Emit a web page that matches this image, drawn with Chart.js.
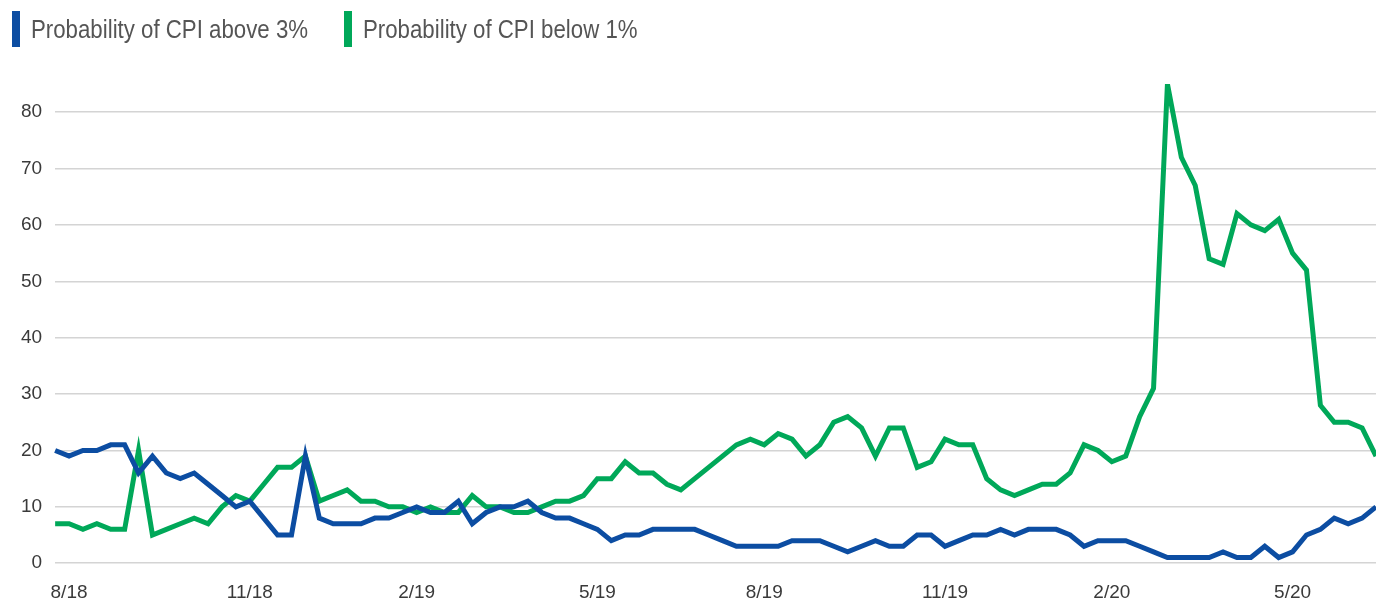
<!DOCTYPE html>
<html>
<head>
<meta charset="utf-8">
<script src="https://cdn.jsdelivr.net/npm/chart.js@4.4.1/dist/chart.umd.min.js"></script>
<style>
  html, body { margin: 0; padding: 0; background: #fff; overflow: hidden; }
  #wrap { position: absolute; left: 0; top: 0; width: 1386px; height: 614px; }
  #legend { position: absolute; left: 12px; top: 11px; display: flex; z-index: 2;
    font-family: "Liberation Sans", sans-serif; font-size: 25px; color: #555; }
  .item { display: flex; align-items: center; margin-right: 36px; height: 36px; flex: none; white-space: nowrap; }
  .bar { width: 8px; height: 36px; margin-right: 11px; flex: none; }
  .txt { display: inline-block; transform: scaleX(0.89); transform-origin: left center; }
</style>
</head>
<body>
<div id="legend"></div>
<div id="wrap"><canvas id="mychart"></canvas></div>
<script>
// weekly readings, Aug 2018 - Jun 2020
var above3 = [20, 19, 20, 20, 21, 21, 16, 19, 16, 15, 16, 14, 12, 10, 11, 8, 5, 5, 19, 8, 7, 7,
  7, 8, 8, 9, 10, 9, 9, 11, 7, 9, 10, 10, 11, 9, 8, 8, 7, 6, 4, 5, 5, 6, 6, 6,
  6, 5, 4, 3, 3, 3, 3, 4, 4, 4, 3, 2, 3, 4, 3,
  3, 5, 5, 3, 4, 5, 5, 6, 5, 6,
  6, 6, 5, 3, 4, 4, 4, 3, 2, 1, 1, 1, 1, 2, 1, 1, 3, 1, 2, 5, 6, 8, 7, 8, 10];
var below1 = [7, 7, 6, 7, 6, 6, 20, 5, 6, 7, 8, 7, 10, 12, 11, 14, 17, 17, 19, 11, 12, 13,
  11, 11, 10, 10, 9, 10, 9, 9, 12, 10, 10, 9, 9, 10, 11, 11, 12, 15, 15, 18, 16, 16, 14, 13,
  15, 17, 19, 21, 22, 21, 23, 22, 19, 21, 25, 26, 24, 19, 24,
  24, 17, 18, 22, 21, 21, 15, 13, 12,
  13, 14, 14, 16, 21, 20, 18, 19, 26, 31, 85, 72, 67, 54, 53, 62, 60, 59, 61, 55, 52, 28, 25, 25, 24, 19];

var tickLabels = ['8/18', '11/18', '2/19', '5/19', '8/19', '11/19', '2/20', '5/20'];
var tickWeek = [1, 14, 26, 39, 51, 64, 76, 89];

var seriesNames = ['Probability of CPI above 3%', 'Probability of CPI below 1%'];
var seriesColors = ['#0c4da2', '#00a859'];

var labels = above3.map(function (v, i) {
  var k = tickWeek.indexOf(i);
  return k >= 0 ? tickLabels[k] : '';
});

// legend (text squeezed a little to match the narrow face)
var legend = document.getElementById('legend');
seriesNames.forEach(function (name, i) {
  var item = document.createElement('div');
  item.className = 'item';
  item.innerHTML = '<span class="bar" style="background:' + seriesColors[i] + '"></span><span class="txt">' + name + '</span>';
  legend.appendChild(item);
  var r0 = item.getBoundingClientRect();
  var r1 = item.querySelector('.txt').getBoundingClientRect();
  item.style.width = (r1.right - r0.left) + 'px';
});

var ctx = document.getElementById('mychart');
var myChart = new Chart(ctx, {
  type: 'line',
  data: {
    labels: labels,
    datasets: [{
      label: seriesNames[0],
      data: above3,
      borderColor: seriesColors[0],
      borderWidth: 5,
      pointRadius: 0,
      tension: 0
    }, {
      label: seriesNames[1],
      data: below1,
      borderColor: seriesColors[1],
      borderWidth: 5,
      pointRadius: 0,
      tension: 0
    }]
  },
  options: {
    responsive: true,
    maintainAspectRatio: false,
    animation: false,
    layout: { padding: { top: 84, left: 8, right: 0, bottom: 0 } },
    plugins: { legend: { display: false }, tooltip: { enabled: false } },
    scales: {
      x: {
        offset: false,
        grid: { display: false },
        border: { display: false },
        ticks: {
          autoSkip: false, maxRotation: 0, padding: 10,
          color: '#3a3a3a',
          font: { family: 'Liberation Sans', size: 19 }
        }
      },
      y: {
        min: 0, max: 85,
        afterBuildTicks: function (axis) {
          axis.ticks = axis.ticks.filter(function (t) { return t.value % 10 === 0; });
        },
        grid: { color: '#d4d4d4', lineWidth: 1.5, drawTicks: false },
        border: { display: false },
        ticks: {
          stepSize: 10, padding: 13,
          color: '#3a3a3a',
          font: { family: 'Liberation Sans', size: 19 }
        }
      }
    }
  }
});
</script>
</body>
</html>
